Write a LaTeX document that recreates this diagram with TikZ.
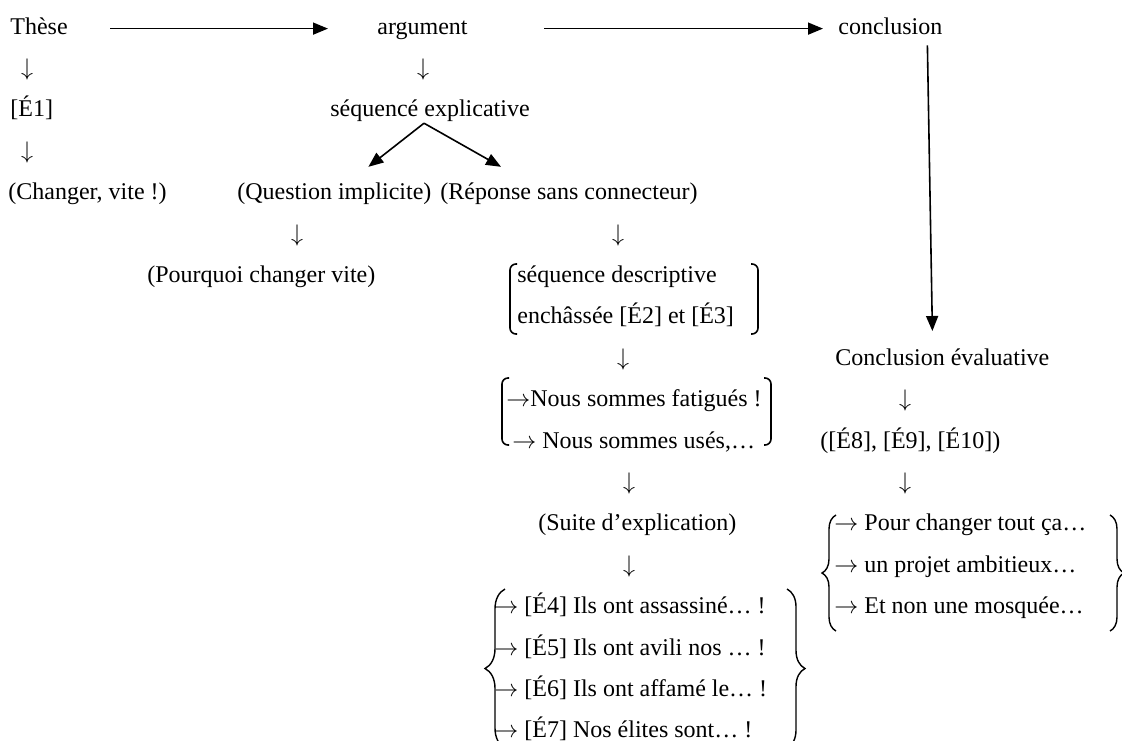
\documentclass[tikz,border=0pt]{standalone}
\usepackage{fontspec}
\setmainfont{Liberation Serif}
\usetikzlibrary{arrows.meta,decorations.pathreplacing}
\newcommand{\ra}{$\rightarrow$}
\newcommand{\da}{$\downarrow$}
\begin{document}
\begin{tikzpicture}[x=0.5pt,y=-0.5pt,
  txt/.style={anchor=base west,inner sep=0pt,font=\fontsize{12}{14}\selectfont,
              text height=8.4pt,text depth=3pt},
  dn/.style={anchor=base,inner sep=0pt,font=\fontsize{12}{14}\selectfont},
  arr/.style={line width=0.8pt,-{Triangle[length=7.5pt,width=6pt]}},
  bkt/.style={line width=0.8pt,rounded corners=3pt},
  brc/.style={line width=0.7pt,decorate,decoration={brace,amplitude=#1}}]
\useasboundingbox (0,0) rectangle (1122,740);

% top line: thesis, argument, conclusion
\node[txt] (these) at (10,34) {Thèse};
\node[txt] (arg)   at (377,34) {argument};
\node[txt] (concl) at (838,34) {conclusion};
\draw[arr,shorten <=21pt,shorten >=24.5pt] (these.east) -- (arg.west);
\draw[arr,shorten <=38pt,shorten >=7.5pt] (arg.east) -- (concl.west);

% thesis column
\node[dn]  (d1) at (27,75.4) {\da};
\node[txt] (e1) at (10,116.8) {[É1]};
\node[dn]  (d2) at (27,158.2) {\da};
\node[txt] (chg) at (8,199.6) {(Changer, vite !)};

% argument column
\node[dn]  (d3) at (423,75.4) {\da};
\node[txt] (seqexp) at (330,116.8) {séquencé explicative};
\node[txt] (quest) at (237,199.6) {(Question implicite)};
\node[txt] (rep)   at (440,199.6) {(Réponse sans connecteur)};
\draw[arr] ([xshift=-3pt]seqexp.south) -- ([xshift=17pt,yshift=7.8pt]quest.north);
\draw[arr] ([xshift=-3pt]seqexp.south) -- ([xshift=-34pt,yshift=7.8pt]rep.north);

\node[dn]  (d4) at (297,241) {\da};
\node[txt] (pourq) at (147,282.4) {(Pourquoi changer vite)};

\node[dn]  (d5) at (618,241) {\da};
\node[txt] (desc1) at (517,282.4) {séquence descriptive};
\node[txt] (desc2) at (517,323.8) {enchâssée [É2] et [É3]};
\draw[bkt] (517,264) -- (510,264) -- (510,334) -- (517,334);
\draw[bkt] (751,264) -- (758,264) -- (758,334) -- (751,334);

\node[dn]  (d6) at (623,365.2) {\da};
\node[txt] (fat) at (506,406.6) {\ra Nous sommes fatigués !};
\node[txt] (use) at (512,448) {\ra{} Nous sommes usés,…};
\draw[bkt] (509,378) -- (502,378) -- (502,445) -- (509,445);
\draw[bkt] (764,378) -- (771,378) -- (771,445) -- (764,445);

\node[dn]  (d7) at (629,489.4) {\da};
\node[txt] (suite) at (538,530.8) {(Suite d’explication)};
\node[dn]  (d8) at (629,572.2) {\da};
\node[txt] (e4) at (494,613.6) {\ra{} [É4] Ils ont assassiné… !};
\node[txt] (e5) at (494,655)   {\ra{} [É5] Ils ont avili nos … !};
\node[txt] (e6) at (494,696.4) {\ra{} [É6] Ils ont affamé le… !};
\node[txt] (e7) at (494,737.8) {\ra{} [É7] Nos élites sont… !};
\draw[brc=10pt] (505,748) -- (505,589);
\draw[brc=9pt] (787,589) -- (787,748);

% conclusion column
\node[txt] (ceval) at (835,365.2) {Conclusion évaluative};
\draw[arr] ([xshift=18.5pt,yshift=-2.5pt]concl.south) -- ([xshift=-5pt,yshift=8.5pt]ceval.north);
\node[dn]  (d9) at (905,406.6) {\da};
\node[txt] (e8) at (820,448) {([É8], [É9], [É10])};
\node[dn]  (d10) at (905,489.4) {\da};
\node[txt] (pc) at (834,530.8) {\ra{} Pour changer tout ça…};
\node[txt] (pa) at (834,572.2) {\ra{} un projet ambitieux…};
\node[txt] (nm) at (834,613.6) {\ra{} Et non une mosquée…};
\draw[brc=7pt] (836,631) -- (836,515);
\draw[brc=7pt] (1110,515) -- (1110,631);
\end{tikzpicture}
\end{document}
